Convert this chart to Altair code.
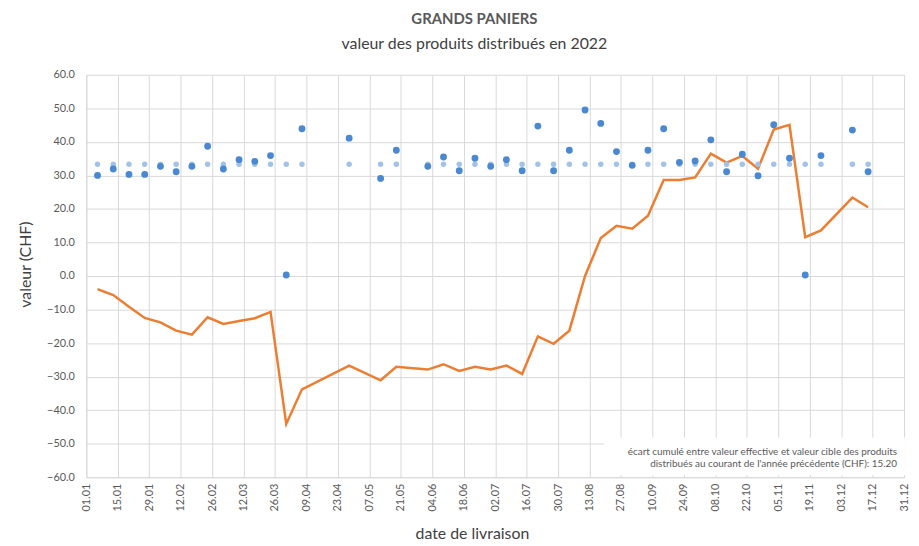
import altair as alt
import pandas as pd

# delivery dates (2022)
dates = ["2022-01-06", "2022-01-13", "2022-01-20", "2022-01-27",
         "2022-02-03", "2022-02-10", "2022-02-17", "2022-02-24",
         "2022-03-03", "2022-03-10", "2022-03-17", "2022-03-24", "2022-03-31",
         "2022-04-07", "2022-04-28",
         "2022-05-12", "2022-05-19",
         "2022-06-02", "2022-06-09", "2022-06-16", "2022-06-23", "2022-06-30",
         "2022-07-07", "2022-07-14", "2022-07-21", "2022-07-28",
         "2022-08-04", "2022-08-11", "2022-08-18", "2022-08-25",
         "2022-09-01", "2022-09-08", "2022-09-15", "2022-09-22", "2022-09-29",
         "2022-10-06", "2022-10-13", "2022-10-20", "2022-10-27",
         "2022-11-03", "2022-11-10", "2022-11-17", "2022-11-24",
         "2022-12-08", "2022-12-15"]

# effective value of distributed products (CHF)
valeur = [30.0, 31.9, 30.3, 30.3,
          32.7, 31.1, 32.7, 38.7,
          31.9, 34.7, 34.2, 35.9, 0.3,
          43.9, 41.1,
          29.1, 37.5,
          32.7, 35.5, 31.4, 35.1, 32.7,
          34.7, 31.4, 44.7, 31.4,
          37.5, 49.5, 45.5, 37.1,
          33.0, 37.5, 43.9, 33.9, 34.3,
          40.6, 31.1, 36.3, 29.9,
          45.1, 35.1, 0.3, 35.9,
          43.5, 31.1]

# target value (CHF)
cible = [33.3] * len(dates)

# cumulative gap (CHF)
ecart = [-3.9, -5.7, -9.2, -12.5,
         -13.8, -16.3, -17.5, -12.3,
         -14.3, -13.4, -12.6, -10.7, -44.1,
         -33.8, -26.7,
         -31.1, -27.1,
         -27.9, -26.3, -28.3, -27.1, -27.9,
         -26.7, -29.2, -18.0, -20.2,
         -16.3, 0.0, 11.3, 15.0,
         14.1, 18.0, 28.6, 28.6, 29.4,
         36.5, 33.8, 35.8, 32.0,
         43.7, 45.1, 11.6, 13.6,
         23.4, 20.5]

tick_dates = ["2022-01-01", "2022-01-15", "2022-01-29", "2022-02-12", "2022-02-26",
              "2022-03-12", "2022-03-26", "2022-04-09", "2022-04-23", "2022-05-07",
              "2022-05-21", "2022-06-04", "2022-06-18", "2022-07-02", "2022-07-16",
              "2022-07-30", "2022-08-13", "2022-08-27", "2022-09-10", "2022-09-24",
              "2022-10-08", "2022-10-22", "2022-11-05", "2022-11-19", "2022-12-03",
              "2022-12-17", "2022-12-31"]

y_ticks = [-60, -50, -40, -30, -20, -10, 0, 10, 20, 30, 40, 50, 60]

note_lines = ["écart cumulé entre valeur effective et valeur cible des produits",
              "distribués au courant de l'année précédente (CHF): 15.20"]

df = pd.DataFrame({"date": dates, "valeur": valeur, "cible": cible, "ecart": ecart})


def dt(s):
    y, m, d = (int(p) for p in s.split("-"))
    return alt.DateTime(year=y, month=m, date=d, utc=True)


FONT = "Lato"
GREY = "#595959"

x_enc = alt.X(
    "date:T",
    scale=alt.Scale(type="utc", domain=[dt("2022-01-01"), dt("2022-12-31")]),
    axis=alt.Axis(
        values=[dt(s) for s in tick_dates],
        labelExpr="utcFormat(datum.value, '%d.%m')",
        labelOverlap=False,
        labelAngle=-90,
        labelFontSize=11,
        labelColor=GREY,
        labelPadding=6,
        ticks=False,
        title="date de livraison",
        titleFontSize=16,
        titleFontWeight="normal",
        titleColor="#404040",
        titleX=389,
        titleY=62,
        titleBaseline="alphabetic",
        titleAlign="center",
    ),
)

y_scale = alt.Scale(domain=[-60, 60], nice=False, zero=False)
y_axis = alt.Axis(
    values=y_ticks,
    format=".1f",
    labelFontSize=11,
    labelColor=GREY,
    labelPadding=12,
    ticks=False,
    title="valeur (CHF)",
    titleFontSize=16,
    titleFontWeight="normal",
    titleColor="#404040",
    titleX=-56,
    titleY=191,
    titleAngle=-90,
    titleAlign="center",
    titleBaseline="alphabetic",
)

base = alt.Chart(df)

line = base.mark_line(color="#ed7d31", strokeWidth=2.5).encode(
    x=x_enc,
    y=alt.Y("ecart:Q", scale=y_scale, axis=y_axis),
)

pts_cible = base.mark_circle(color="#a3c2e8", size=30, opacity=1).encode(
    x=x_enc, y=alt.Y("cible:Q", scale=y_scale, axis=y_axis)
)

pts_val = base.mark_circle(color="#4a88d2", size=48, opacity=1).encode(
    x=x_enc, y=alt.Y("valeur:Q", scale=y_scale, axis=y_axis)
)

box = alt.Chart(pd.DataFrame({"k": [0]})).mark_rect(color="white").encode(
    x=alt.value(522), x2=alt.value(826), y=alt.value(366), y2=alt.value(404)
)

note = alt.Chart(pd.DataFrame({"k": [0]})).mark_text(
    align="right", baseline="middle", fontSize=10, color=GREY, font=FONT,
    lineHeight=11.5, text=note_lines,
).encode(x=alt.value(818), y=alt.value(381))

chart = alt.layer(line, pts_cible, pts_val, box, note).properties(
    width=825,
    height=406,
    autosize=alt.AutoSizeParams(type="none"),
    padding={"left": 79, "top": 65, "right": 7, "bottom": 66},
    title=alt.Title(
        "GRANDS PANIERS",
        subtitle="valeur des produits distribués en 2022",
        anchor="middle",
        dx=-21,
        offset=17,
        fontSize=15,
        fontWeight="bold",
        color=GREY,
        subtitleFontSize=16,
        subtitleColor="#404040",
        subtitlePadding=9,
        font=FONT,
        subtitleFont=FONT,
    ),
).configure(font=FONT).configure_axis(
    gridColor="#d9d9d9",
    domainColor="#d9d9d9",
    labelFont=FONT,
    titleFont=FONT,
).configure_view(stroke=None)

chart.save("out.html", embed_options={"renderer": "svg", "actions": False})
